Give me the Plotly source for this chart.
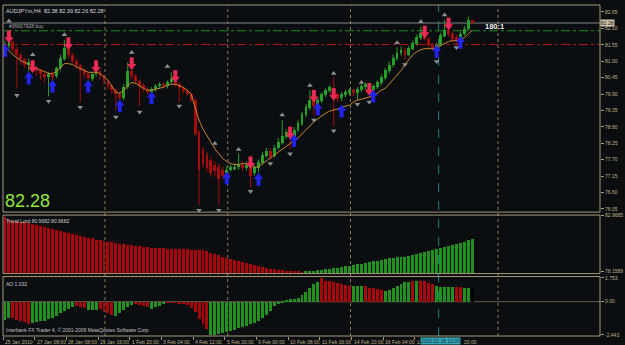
import plotly.graph_objects as go

# ---------------- data ----------------
bar_index = list(range(119))

opens = [81.36, 81.52, 81.66, 81.42, 81.22, 81.06, 80.86, 80.96, 80.76, 80.66,
         80.56, 80.46, 80.56, 80.49, 80.76, 81.09, 81.42, 81.22, 81.02, 80.86,
         80.69, 80.56, 80.39, 80.56, 80.66, 80.49, 80.33, 80.16, 80.03, 79.90,
         79.76, 80.13, 80.66, 80.49, 80.33, 80.19, 80.06, 79.96, 80.06, 80.16,
         80.23, 80.16, 80.29, 80.36, 80.23, 80.09, 79.99, 79.90, 79.70, 78.63,
         78.04, 77.87, 77.70, 77.54, 77.47, 77.37, 77.24, 77.37, 77.41, 77.44,
         77.54, 77.41, 77.47, 77.24, 77.41, 77.60, 77.84, 78.00, 77.84, 78.10,
         78.27, 78.47, 78.63, 78.47, 78.70, 78.90, 79.20, 79.43, 79.70, 79.50,
         79.66, 79.86, 79.99, 80.09, 79.90, 79.76, 79.86, 79.93, 80.03, 79.93,
         80.03, 80.13, 80.19, 80.03, 80.13, 80.26, 80.43, 80.66, 80.86, 81.09,
         81.26, 81.39, 81.22, 81.42, 81.59, 81.79, 81.95, 81.75, 81.56, 81.42,
         81.56, 81.85, 82.05, 81.92, 81.82, 81.75, 81.92, 82.09, 82.38]

highs = [81.69, 82.02, 81.72, 81.49, 81.29, 81.12, 81.09, 81.02, 80.86, 80.76,
         80.66, 80.63, 80.63, 80.82, 81.22, 81.72, 81.49, 81.29, 81.09, 80.92,
         80.76, 80.63, 80.63, 80.73, 80.69, 80.56, 80.39, 80.23, 80.09, 79.96,
         80.23, 80.96, 80.73, 80.56, 80.39, 80.26, 80.13, 80.13, 80.23, 80.29,
         80.29, 80.36, 80.63, 80.43, 80.29, 80.16, 80.06, 79.96, 79.76, 78.70,
         78.14, 77.97, 77.80, 77.64, 77.57, 77.47, 77.47, 77.54, 77.57, 77.90,
         77.64, 77.64, 77.54, 77.51, 77.70, 77.97, 78.10, 78.10, 78.20, 78.43,
         79.03, 78.73, 78.70, 78.80, 79.03, 79.30, 79.56, 80.03, 79.76, 79.80,
         79.96, 80.09, 80.19, 80.46, 79.96, 79.96, 80.03, 80.09, 80.09, 80.13,
         80.23, 80.29, 80.26, 80.23, 80.36, 80.56, 80.79, 80.99, 81.22, 81.46,
         81.49, 81.46, 81.52, 81.69, 81.89, 82.15, 82.02, 81.82, 81.62, 81.62,
         81.95, 82.39, 82.12, 81.99, 81.89, 81.99, 82.19, 82.49, 82.39]

lows = [81.26, 81.42, 81.29, 80.09, 80.89, 80.76, 80.66, 80.63, 80.49, 80.39,
        80.29, 79.83, 80.36, 80.43, 80.69, 81.02, 81.09, 80.92, 80.76, 79.63,
        80.46, 80.36, 80.33, 80.49, 80.39, 80.23, 80.06, 79.90, 79.36, 79.70,
        79.70, 80.06, 80.39, 80.23, 79.50, 79.96, 79.90, 79.93, 79.99, 80.09,
        80.09, 80.09, 80.23, 80.13, 79.63, 79.90, 79.83, 79.63, 78.50, 76.18,
        77.44, 77.31, 77.14, 77.17, 76.18, 77.04, 77.17, 77.31, 77.34, 77.37,
        77.31, 77.34, 76.78, 77.17, 77.27, 77.54, 77.77, 77.70, 77.77, 78.04,
        78.20, 78.40, 78.07, 78.30, 78.63, 78.83, 79.13, 79.36, 79.17, 79.43,
        79.60, 79.80, 79.93, 78.83, 79.63, 79.66, 79.80, 79.86, 79.83, 79.70,
        79.96, 80.06, 79.80, 79.96, 80.06, 80.19, 80.36, 80.59, 80.79, 81.02,
        81.19, 81.06, 81.16, 81.36, 81.52, 81.72, 81.69, 81.46, 81.36, 81.16,
        81.49, 81.79, 81.82, 81.62, 81.56, 81.72, 81.85, 82.02, 82.26]

closes = [81.56, 81.69, 81.42, 81.22, 81.06, 80.89, 80.99, 80.76, 80.66, 80.56,
          80.46, 80.56, 80.46, 80.76, 81.12, 81.46, 81.22, 81.02, 80.86, 80.69,
          80.56, 80.43, 80.56, 80.66, 80.49, 80.33, 80.16, 80.03, 79.90, 79.76,
          80.13, 80.66, 80.49, 80.33, 80.16, 80.06, 79.96, 80.06, 80.16, 80.23,
          80.16, 80.29, 80.39, 80.23, 80.09, 79.99, 79.90, 79.70, 78.57, 77.37,
          77.57, 77.41, 77.24, 77.31, 77.04, 77.17, 77.37, 77.44, 77.47, 77.54,
          77.41, 77.54, 77.14, 77.44, 77.64, 77.87, 78.00, 77.80, 78.10, 78.30,
          78.50, 78.63, 78.43, 78.70, 78.93, 79.23, 79.46, 79.70, 79.50, 79.70,
          79.90, 80.03, 80.13, 79.90, 79.73, 79.90, 79.96, 80.03, 79.93, 80.06,
          80.16, 80.23, 80.03, 80.16, 80.29, 80.46, 80.69, 80.89, 81.12, 81.29,
          81.39, 81.22, 81.46, 81.62, 81.82, 81.95, 81.75, 81.56, 81.46, 81.56,
          81.89, 82.05, 81.92, 81.75, 81.72, 81.92, 82.09, 82.39, 82.28]

moving_avg = [81.46, 81.36, 81.22, 81.12, 81.02, 80.96, 80.89, 80.82, 80.76, 80.69,
              80.66, 80.59, 80.59, 80.66, 80.79, 80.92, 80.92, 80.89, 80.82, 80.76,
              80.69, 80.63, 80.63, 80.63, 80.59, 80.49, 80.36, 80.16, 79.96, 79.93,
              80.03, 80.19, 80.29, 80.26, 80.16, 80.09, 80.03, 80.03, 80.06, 80.09,
              80.13, 80.19, 80.23, 80.23, 80.19, 80.13, 80.03, 79.90, 79.46, 79.03,
              78.73, 78.50, 78.27, 78.07, 77.90, 77.74, 77.64, 77.57, 77.54, 77.54,
              77.57, 77.57, 77.54, 77.44, 77.47, 77.57, 77.64, 77.74, 77.87, 77.97,
              78.07, 78.17, 78.27, 78.34, 78.43, 78.57, 78.70, 78.83, 78.97, 79.07,
              79.17, 79.26, 79.33, 79.36, 79.40, 79.46, 79.50, 79.53, 79.63, 79.70,
              79.73, 79.76, 79.80, 79.86, 79.93, 80.03, 80.09, 80.23, 80.39, 80.53,
              80.69, 80.89, 81.06, 81.22, 81.32, 81.39, 81.42, 81.42, 81.42, 81.46,
              81.52, 81.59, 81.66, 81.69, 81.69, 81.72, 81.79, 81.92, 82.05]

trend_lord = [82.80, 82.55, 82.46, 82.46, 82.42, 82.38, 82.29, 82.21, 82.13, 82.04,
              81.96, 81.87, 81.79, 81.70, 81.62, 81.54, 81.49, 81.41, 81.32, 81.24,
              81.15, 81.07, 80.99, 80.90, 80.86, 80.78, 80.69, 80.65, 80.56, 80.52,
              80.48, 80.44, 80.40, 80.35, 80.31, 80.27, 80.23, 80.20, 80.18, 80.17,
              80.15, 80.13, 80.12, 80.10, 80.08, 80.07, 80.05, 80.03, 80.02, 80.02,
              79.97, 79.89, 79.76, 79.68, 79.55, 79.43, 79.30, 79.21, 79.13, 79.05,
              78.96, 78.88, 78.79, 78.71, 78.62, 78.54, 78.45, 78.41, 78.35, 78.30,
              78.27, 78.24, 78.22, 78.19, 78.17, 78.16, 78.18, 78.21, 78.24, 78.29,
              78.33, 78.36, 78.40, 78.45, 78.50, 78.55, 78.60, 78.65, 78.71, 78.77,
              78.83, 78.90, 78.97, 79.04, 79.10, 79.17, 79.24, 79.29, 79.33, 79.37,
              79.41, 79.44, 79.48, 79.57, 79.66, 79.76, 79.85, 79.93, 80.02, 80.10,
              80.18, 80.27, 80.35, 80.44, 80.52, 80.62, 80.72, 80.83, 80.97]
trend_lord_dir = "R" * 76 + "G" * 43

ao = [-1.28, -1.16, -1.20, -1.28, -1.40, -1.47, -1.57, -1.54, -1.49, -1.42,
      -1.35, -1.25, -1.13, -0.99, -0.82, -0.65, -0.51, -0.39, -0.29, -0.34,
      -0.46, -0.60, -0.58, -0.55, -0.48, -0.63, -0.80, -0.92, -1.01, -0.82,
      -0.58, -0.39, -0.24, -0.14, -0.19, -0.29, -0.39, -0.48, -0.36, -0.27,
      -0.17, -0.04, -0.05, -0.06, -0.08, -0.11, -0.19, -0.43, -0.75, -1.25,
      -1.64, -2.00, -2.443, -2.40, -2.31, -2.24, -2.17, -2.12, -2.05, -1.93,
      -1.83, -1.76, -1.64, -1.52, -1.40, -1.16, -0.92, -0.63, -0.31, -0.07,
      0.10, 0.17, 0.22, 0.24, 0.34, 0.53, 0.77, 1.06, 1.30, 1.49,
      1.753, 1.57, 1.54, 1.49, 1.40, 1.30, 1.25, 1.21, 1.16, 1.17,
      1.18, 1.18, 1.06, 1.01, 0.96, 0.87, 0.82, 0.89, 1.06, 1.21,
      1.37, 1.45, 1.50, 1.54, 1.52, 1.57, 1.52, 1.42, 1.30, 1.18,
      1.14, 1.14, 1.14, 1.14, 1.14, 1.08, 1.02, 1.03, 1.032]
ao_dir = ("GGRRRRRGGGGGGGGGGGRRRGGGRRRRGGGGGRRRRGGGGRRRRRRRRRRR"
          "GGGGGGGGGGGGGGGGGGGGGGGGGGGGRRRRRRRRGGGRRRRRGGGGGGGRGRRRRGGGGGRRGG")

sell_idx = [1, 7, 16, 23, 32, 43, 62, 72, 78, 83, 92, 106, 112]
sell_px = [81.79, 80.79, 81.56, 80.79, 80.89, 80.46, 77.57, 78.57, 79.80, 79.86, 80.03, 81.95, 82.22]
buy_idx = [0, 6, 12, 21, 29, 37, 56, 64, 73, 79, 85, 93, 109, 115]
buy_px = [81.39, 80.46, 80.19, 80.19, 79.53, 79.80, 77.11, 77.07, 78.37, 79.43, 79.36, 79.86, 81.36, 81.66]

fr_up_idx = [1, 7, 15, 32, 41, 53, 59, 70, 77, 83, 90, 99, 105, 111]
fr_up_px = [82.35, 81.22, 81.89, 81.29, 80.82, 78.24, 78.04, 79.20, 80.19, 80.59, 80.29, 81.62, 82.32, 82.55]
fr_dn_idx = [3, 11, 19, 28, 34, 44, 49, 54, 62, 67, 72, 78, 83, 89, 92, 101, 109, 114]
fr_dn_px = [79.86, 79.66, 79.46, 79.13, 79.30, 79.50, 76.01, 76.01, 76.64, 77.57, 77.90,
            79.03, 78.67, 79.56, 79.63, 80.89, 80.99, 81.46]

price_ticks = [82.65, 82.10, 81.55, 81.00, 80.45, 79.90, 79.35, 78.80, 78.25, 77.70, 77.15, 76.60, 76.05]
date_tick_pos = [-0.5, 7.5, 15.5, 23.5, 31.5, 39.5, 47.5, 55.5, 63.5, 71.5, 79.5, 87.5, 95.5, 103.5, 111.5]
date_labels = ["25 Jan 2010", "27 Jan 08:00", "28 Jan 08:00", "29 Jan 16:00", "1 Feb 20:00",
               "3 Feb 04:00", "4 Feb 12:00", "5 Feb 20:00", "9 Feb 00:00", "10 Feb 08:00",
               "11 Feb 16:00", "14 Feb 20:00", "16 Feb 04:00", "1", "20:00"]
# the last two labels are mostly hidden behind the cursor date box; only these parts show
date_label_pos = date_tick_pos[:-1] + [115.3]
separator_pos = [25.25, 56.25, 87.25, 124.5]
cursor_pos = 109.5
cursor_label = "2010.02.18 12:00"

bid_price = 82.28
order_price = 82.02
stop_price = 81.56
order_label = "#36607928 buy"
ratio_label = "180:1"
ratio_pos = (120.75, 82.15)
tl_ticks = [82.9685, 78.1589]
ao_ticks = [1.753, 0.0, -2.443]

# ---------------- styling ----------------
BG = "#0a0e10"
FRAME = "#a8987a"
LBL = "#c2b28e"
GREEN = "#28a028"
RED = "#a80c0c"
HGREEN = "#22921f"
HRED = "#a80808"
FONT = "Liberation Sans, Arial, sans-serif"

MAIN_RANGE = [75.945, 82.884]
TL_RANGE = [77.99, 83.00]
AO_RANGE = [-2.52, 1.85]
pu = (MAIN_RANGE[1] - MAIN_RANGE[0]) / 209.0

fig = go.Figure()

# candle bodies and wicks
up = [i for i in bar_index if closes[i] >= opens[i]]
dn = [i for i in bar_index if closes[i] < opens[i]]
for idx, col in ((up, GREEN), (dn, RED)):
    wx, wy = [], []
    for i in idx:
        wx += [i, i, None]
        wy += [lows[i], highs[i], None]
    fig.add_trace(go.Scatter(x=wx, y=wy, mode="lines", line=dict(color=col, width=1),
                             xaxis="x", yaxis="y", hoverinfo="skip", showlegend=False))
    fig.add_trace(go.Bar(x=idx, y=[max(abs(closes[i] - opens[i]), 0.02) for i in idx],
                         base=[min(opens[i], closes[i]) for i in idx], width=0.72,
                         marker=dict(color=col, line=dict(width=0)),
                         xaxis="x", yaxis="y", showlegend=False))

# moving average
fig.add_trace(go.Scatter(x=bar_index, y=moving_avg, mode="lines",
                         line=dict(color="#c9862a", width=1), xaxis="x", yaxis="y", showlegend=False))

# fractals
fig.add_trace(go.Scatter(x=fr_up_idx, y=fr_up_px, mode="markers",
                         marker=dict(symbol="triangle-up", size=5, color="#8e8e8e"),
                         xaxis="x", yaxis="y", showlegend=False))
fig.add_trace(go.Scatter(x=fr_dn_idx, y=fr_dn_px, mode="markers",
                         marker=dict(symbol="triangle-down", size=5, color="#8e8e8e"),
                         xaxis="x", yaxis="y", showlegend=False))

# signal arrows (shaft + head)
SELL = "#ec2a55"
BUY = "#2323ee"
fig.add_trace(go.Scatter(x=sell_idx, y=[p + 3.0 * pu for p in sell_px], mode="markers",
                         marker=dict(symbol="line-ns", size=6, line=dict(color=SELL, width=4)),
                         xaxis="x", yaxis="y", showlegend=False))
fig.add_trace(go.Scatter(x=sell_idx, y=[p - 1.5 * pu for p in sell_px], mode="markers",
                         marker=dict(symbol="triangle-down", size=8, color=SELL),
                         xaxis="x", yaxis="y", showlegend=False))
fig.add_trace(go.Scatter(x=buy_idx, y=[p - 3.0 * pu for p in buy_px], mode="markers",
                         marker=dict(symbol="line-ns", size=6, line=dict(color=BUY, width=4)),
                         xaxis="x", yaxis="y", showlegend=False))
fig.add_trace(go.Scatter(x=buy_idx, y=[p + 1.5 * pu for p in buy_px], mode="markers",
                         marker=dict(symbol="triangle-up", size=8, color=BUY),
                         xaxis="x", yaxis="y", showlegend=False))

# Trend Lord histogram
tl_base = TL_RANGE[0]
fig.add_trace(go.Bar(x=bar_index, y=[v - tl_base for v in trend_lord], base=tl_base, width=0.75,
                     marker=dict(color=[HGREEN if d == "G" else HRED for d in trend_lord_dir],
                                 line=dict(width=0)),
                     xaxis="x2", yaxis="y2", showlegend=False))

# AO histogram
fig.add_trace(go.Bar(x=bar_index, y=ao, width=0.75,
                     marker=dict(color=[HGREEN if d == "G" else HRED for d in ao_dir],
                                 line=dict(width=0)),
                     xaxis="x3", yaxis="y3", showlegend=False))

# ---------------- layout ----------------
D_MAIN = [0.3743, 1.0]
D_TL = [0.1886, 0.3653]
D_AO = [0.0, 0.1796]
XR = [-0.5, 150.25]

tickfont = dict(family=FONT, size=5, color=LBL)
yax_common = dict(side="right", showgrid=False, zeroline=False, showline=False,
                  ticks="outside", ticklen=3, tickcolor=FRAME, tickwidth=1,
                  tickfont=tickfont, fixedrange=True)

fig.update_layout(
    width=625, height=345, autosize=False,
    margin=dict(l=3, r=19, t=2, b=9, pad=0),
    paper_bgcolor=BG, plot_bgcolor=BG,
    barmode="overlay", bargap=0, showlegend=False,
    xaxis=dict(domain=[0, 1], range=XR, visible=False, anchor="y"),
    xaxis2=dict(domain=[0, 1], range=XR, visible=False, anchor="y2", matches="x"),
    xaxis3=dict(domain=[0, 1], range=XR, anchor="y3", matches="x", showticklabels=False,
                ticks="outside", tickvals=date_tick_pos, ticklen=3, tickcolor=FRAME,
                showgrid=False, zeroline=False, showline=False),
    yaxis=dict(domain=D_MAIN, range=MAIN_RANGE, anchor="x", tickvals=price_ticks,
               ticktext=["%.2f" % v for v in price_ticks], **yax_common),
    yaxis2=dict(domain=D_TL, range=TL_RANGE, anchor="x2", tickvals=tl_ticks,
                ticktext=["%.4f" % v for v in tl_ticks], **yax_common),
    yaxis3=dict(domain=D_AO, range=AO_RANGE, anchor="x3", tickvals=ao_ticks,
                ticktext=["1.753", "0.00", "-2.443"], **yax_common),
)

shapes = []
for xs in separator_pos:
    shapes.append(dict(type="line", xref="x", yref="paper", x0=xs, x1=xs, y0=0, y1=1,
                       line=dict(color="#8c7a55", width=1, dash="dot"), layer="below"))
shapes.append(dict(type="line", xref="x", yref="paper", x0=cursor_pos, x1=cursor_pos, y0=0, y1=1,
                   line=dict(color="#1d7f7c", width=1, dash="dash"), layer="below"))
shapes.append(dict(type="line", xref="paper", yref="y", x0=0, x1=1, y0=order_price, y1=order_price,
                   line=dict(color="#1f8c1f", width=1, dash="dashdot"), layer="below"))
shapes.append(dict(type="line", xref="paper", yref="y", x0=0, x1=1, y0=stop_price, y1=stop_price,
                   line=dict(color="#b01818", width=1, dash="dashdot"), layer="below"))
shapes.append(dict(type="line", xref="paper", yref="y", x0=0, x1=1, y0=bid_price, y1=bid_price,
                   line=dict(color="#7e838a", width=1), layer="below"))
shapes.append(dict(type="line", xref="paper", yref="y3", x0=0, x1=1, y0=0, y1=0,
                   line=dict(color="#6b604c", width=1), layer="below"))
for d in (D_MAIN, D_TL, D_AO):
    shapes.append(dict(type="rect", xref="paper", yref="paper", x0=0, x1=1, y0=d[0], y1=d[1],
                       line=dict(color=FRAME, width=1), fillcolor="rgba(0,0,0,0)", layer="above"))
fig.update_layout(shapes=shapes)

ann = []
small = dict(family=FONT, size=5.5, color="#dcdcdc")
ann.append(dict(xref="paper", yref="paper", x=0, y=1, xanchor="left", yanchor="top", xshift=1, yshift=-1,
                text="AUDJPYm,H4  82.38 82.39 82.26 82.28", showarrow=False, font=small))
ann.append(dict(xref="paper", yref="y", x=0, y=order_price, xanchor="left", yanchor="bottom", xshift=4,
                text=order_label, showarrow=False, font=dict(family=FONT, size=5, color="#a8a8a8")))
ann.append(dict(xref="x", yref="y", x=ratio_pos[0], y=ratio_pos[1], xanchor="left", yanchor="middle",
                text="<b>" + ratio_label + "</b>", showarrow=False,
                font=dict(family=FONT, size=7.5, color="#f0f0f0")))
ann.append(dict(xref="paper", yref="y domain", x=0, y=0, xanchor="left", yanchor="bottom", xshift=0, yshift=-1,
                text="82.28", showarrow=False, font=dict(family=FONT, size=18, color="#8ee83c")))
ann.append(dict(xref="paper", yref="y", x=1, y=bid_price, xanchor="left", yanchor="middle", xshift=0,
                text="82.28", showarrow=False, bgcolor="#cfc6aa", borderpad=0,
                font=dict(family=FONT, size=5, color="#101010")))
ann.append(dict(xref="paper", yref="y2 domain", x=0, y=1, xanchor="left", yanchor="top", xshift=1, yshift=-1,
                text="Trend Lord 80.9682 80.9682", showarrow=False, font=dict(family=FONT, size=5, color="#cfcfcf")))
ann.append(dict(xref="paper", yref="y3 domain", x=0, y=1, xanchor="left", yanchor="top", xshift=1, yshift=-2,
                text="AO 1.032", showarrow=False, font=dict(family=FONT, size=5, color="#cfcfcf")))
ann.append(dict(xref="paper", yref="y3 domain", x=0, y=0, xanchor="left", yanchor="bottom", xshift=1, yshift=1,
                text="Interbank FX Trader 4, \u00a9 2001-2009 MetaQuotes Software Corp.", showarrow=False,
                font=dict(family=FONT, size=5, color="#c4c4c4")))
for pos, lab in zip(date_label_pos, date_labels):
    ann.append(dict(xref="x3", yref="paper", x=pos, y=0, xanchor="left", yanchor="top", xshift=0, yshift=-1,
                    text=lab, showarrow=False, font=dict(family=FONT, size=5, color=LBL)))
ann.append(dict(xref="x3", yref="paper", x=cursor_pos, y=0, xanchor="center", yanchor="top", yshift=-1,
                xshift=2, text=cursor_label, showarrow=False, bgcolor="#36a6b2", borderpad=0,
                font=dict(family=FONT, size=5, color="#0c2a44")))
fig.update_layout(annotations=ann)

fig.write_html("out.html")
